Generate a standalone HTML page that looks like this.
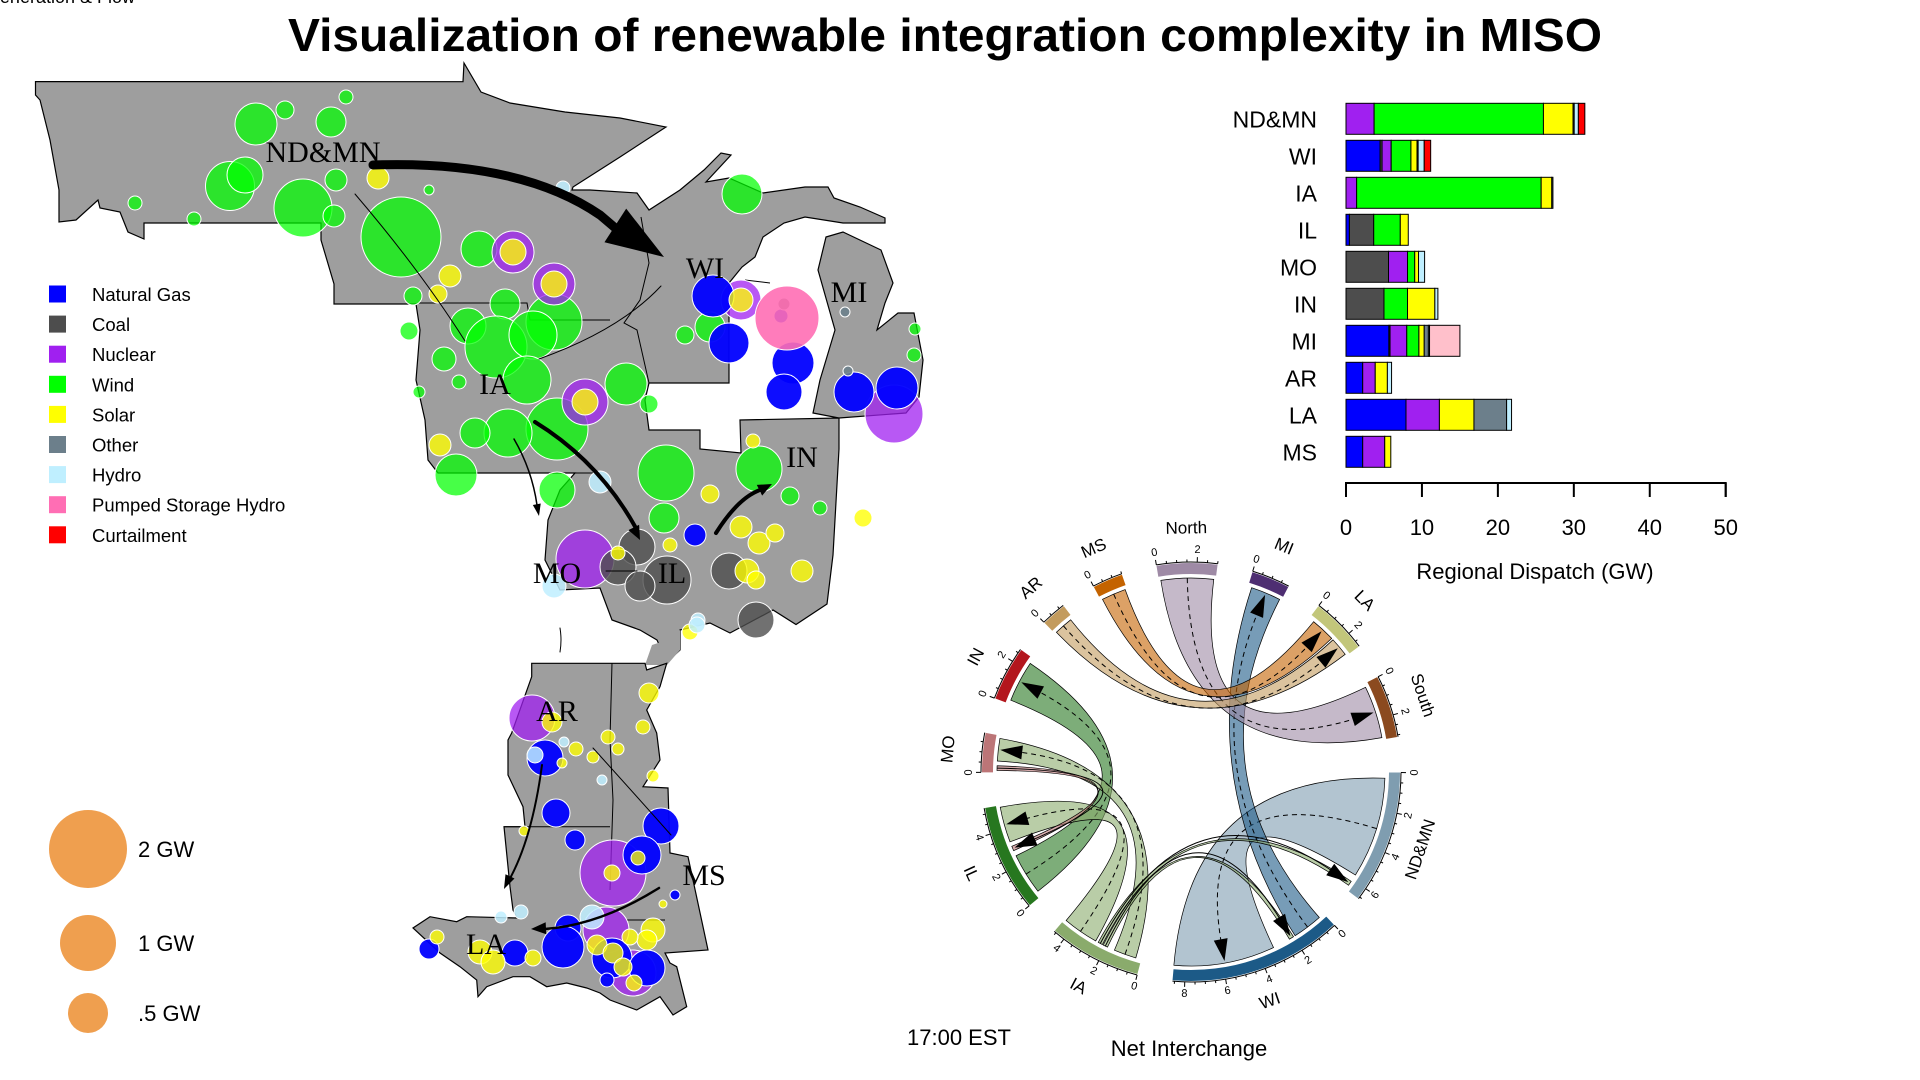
<!DOCTYPE html>
<html><head><meta charset="utf-8"><style>
body{margin:0;background:#fff}svg{display:block}
text{font-family:"Liberation Sans",sans-serif}
text.serif{font-family:"Liberation Serif",serif}
</style></head><body>
<svg id="svg" width="1920" height="1080" viewBox="0 0 1920 1080" xmlns="http://www.w3.org/2000/svg">
<rect width="1920" height="1080" fill="#fff"/>
<text x="135" y="3" font-size="18" text-anchor="end">Generation &amp; Flow</text>
<text x="288" y="51" font-size="46" font-weight="bold" textLength="1314" lengthAdjust="spacingAndGlyphs">Visualization of renewable integration complexity in MISO</text>

<g fill="#9e9e9e" stroke="#000" stroke-width="1.2">
<polygon points="35.5,81.6 463,81.7 464,63 481,92 510,103 565,112 620,118 666,127 620,157 573,187 572,190 590,190 637,193 649,210 680,190 704,170 721,153 731,155 706,182 729,178 763,193 805,187 828,187 834,198 860,207 885,218 885,223 843,223 805,217 784,223 763,237 755,257 742,267 729,283 729,383 649,383 645,400 649,430 700,430 700,449 741,453 740,420 839,418 839,449 833,555 827,604 796,624.5 773,610 730,633 710,623 680,630 680,650 667,662 657,640 640,630 612,620 600,588 560,590 545,560 548,520 560,490 575,473 438,473 428,460 425,420 416,380 420,330 416,304 334,304 334,284 321,240 321,223 144,223 144,239 128,232 120,212 100,208 98,200 76,220 59,222 59,190 50,140 40,100 35.5,95"/>
<polygon points="826,237 843,232 881,250 893,283 885,303 877,330 898,313 914,313 923,360 919,397 906,413 839,418 813,413 820,380 835,330 818,270"/>
<polygon points="645,665 667,665 680,650 680,630 667,640 652,645" stroke="none"/>
<polygon points="531.7,663.3 645,663.3 646.7,670 666.7,663.3 660,686.7 646.7,710 656.7,733 660,760 643,786.7 668,788 670,853 688,856.7 708,950 665,953 670,963 676.7,966.7 686.7,1006.7 673,1015 660,996.7 636.7,1010 610,1000 600,993 586.7,988 566.7,983 546.7,986.7 530,976.7 513,976.7 486.7,986.7 478,996.7 476.7,980 460,966.7 440,953 413,928 430,916.7 456.7,921.7 466.7,916.7 516.7,918 513,910 510,886.7 504,826.7 525,826.7 523,806.7 508,775 508,740 511.7,733 531.7,676.7"/>
<g fill="none" stroke-width="1">
<path d="M418,303 L527,303 L530,320 L610,320 M641,217 L649,263 L640,300 L624,323 L637,330 L649,383 M504,826.7 L610,826.7 M612,663 L610,740 L613,800 L610,890 M627,920 L665,920 M575,473 L600,473 M745,280 L770,283"/>
</g>
</g>
<g id="plants"></g>
<g id="mapflows"></g>
<g font-size="30" text-anchor="middle">
<text class="serif" x="323" y="162">ND&amp;MN</text>
<text class="serif" x="705" y="278">WI</text>
<text class="serif" x="849" y="302">MI</text>
<text class="serif" x="495" y="394">IA</text>
<text class="serif" x="802" y="467">IN</text>
<text class="serif" x="557" y="583">MO</text>
<text class="serif" x="672" y="583">IL</text>
<text class="serif" x="557" y="721">AR</text>
<text class="serif" x="704" y="885">MS</text>
<text class="serif" x="486" y="954">LA</text>
</g>

<g id="legend" font-size="18.5"></g>
<g font-size="22">
<circle cx="88" cy="849" r="39" fill="#ef9f4f"/>
<circle cx="88" cy="943" r="28" fill="#ef9f4f"/>
<circle cx="88" cy="1013" r="20" fill="#ef9f4f"/>
<text x="138" y="857">2 GW</text>
<text x="138" y="951">1 GW</text>
<text x="138" y="1021">.5 GW</text>
</g>

<g id="bars"></g>
<g id="chord"></g>
<text x="959" y="1045" font-size="22" text-anchor="middle">17:00 EST</text>
<text x="1189" y="1056" font-size="22" text-anchor="middle">Net Interchange</text>
</svg>
<script>
const NS="http://www.w3.org/2000/svg";
function mk(tag,attrs,parent){const e=document.createElementNS(NS,tag);for(const k in attrs)e.setAttribute(k,attrs[k]);parent.appendChild(e);return e;}

/* ---------- bar chart data ---------- */
const regions=["ND&MN","WI","IA","IL","MO","IN","MI","AR","LA","MS"];
const gasGW=[0,4.5,0,0.45,0,0,5.65,2.2,7.9,2.2];
const coalGW=[0,0.25,0,3.2,5.6,5.0,0.15,0,0,0];
const nuclearGW=[3.7,1.2,1.4,0,2.5,0,2.2,1.65,4.4,2.9];
const windGW=[22.3,2.6,24.3,3.5,0.95,3.1,1.6,0,0,0];
const solarGW=[3.9,0.8,1.4,1.05,0.5,3.6,0.7,1.6,4.55,0.8];
const otherGW=[0.15,0.15,0.15,0,0,0,0.55,0,4.3,0];
const hydroGW=[0.55,0.8,0,0,0.8,0.4,0.15,0.55,0.65,0];
const pshGW=[0,0,0,0,0,0,4.0,0,0,0];
const curtailGW=[0.85,0.85,0,0,0,0,0,0,0,0];
const xTicks=[0,10,20,30,40,50];

/* ---------- chord data ---------- */
const sectorNames=["North","MI","LA","South","ND&MN","WI","IA","IL","MO","IN","AR","MS"];
const sectorTotals=[3.0,1.9,2.8,3.1,6.6,8.6,4.6,5.3,1.95,2.7,1.25,1.5];
const linkFrom=["ND&MN","WI","North","MS","AR","IL","IA","IA","MO","IA","IA"];
const linkTo=["WI","MI","South","LA","LA","IN","MO","IL","IL","WI","ND&MN"];
const linkValue=[5.4,1.6,2.8,1.3,1.0,2.2,1.2,1.9,0.25,0.25,0.25];
const linkFromPos=[0.3,0.3,0.1,0.1,0.1,0.3,0.3,2.6,0.1,1.9,2.2];
const linkToPos=[3.2,0.2,0.2,0.3,1.7,0.2,0.6,3.3,2.8,2.0,6.1];

/* ---------- map plant data (map pixel positions, radius) ---------- */
const windPlants=[[256,124,21],[285,110,9],[331,122,15],[346,97,7],[230,186,24.5],[245,175,18],[303,208,29],[336,180,11],[334,216,11],[135,203,7],[194,219,7],[401,237,40],[429,190,5],[479,249,18],[413,296,9],[409,331,9],[554,322,28],[505,304,15],[468,326,18],[496,347,31],[533,335,24],[444,359,12],[459,382,7],[527,380,24],[626,384,21],[649,404,9],[557,429,31],[508,433,24],[475,433,15],[456,475,21],[557,490,18],[666,473,28],[664,518,15],[759,469,23],[742,194,20],[710,327,15],[685,335,9],[914,355,7],[915,329,6],[419,392,6],[820,508,7],[790,496,9]];
const nuclearPlants=[[513,252,21],[554,284,21],[585,402,23],[585,559,29],[741,300,20],[894,414,29],[532,718,23],[613,873,33],[606,930,23],[633,973,23]];
const gasPlants=[[713,296,21],[729,343,20],[793,363,21],[784,392,18],[854,392,20],[897,388,21],[695,535,11],[781,316,7],[545,758,18],[556,813,14],[661,826,18],[575,840,10],[642,855,19],[675,895,5],[568,928,13],[563,947,21],[612,958,20],[647,968,18],[607,980,7],[515,953,13],[429,949,10]];
const coalPlants=[[637,547,18],[618,567,18],[667,580,24],[640,586,15],[729,571,18],[756,620,18],[784,304,6]];
const solarPlants=[[378,178,11],[450,276,11],[438,294,9],[513,252,13],[554,284,13],[585,402,13],[741,300,12],[440,445,11],[710,494,9],[670,545,7],[741,527,11],[759,543,11],[775,533,9],[802,571,11],[863,518,9],[753,441,7],[747,571,12],[756,580,9],[618,553,7],[552,722,10],[562,763,5],[649,693,10],[643,727,7],[608,737,7],[618,749,6],[576,749,7],[593,757,6],[653,776,6],[612,873,8],[638,858,7],[663,904,4],[653,930,12],[647,940,10],[630,937,8],[597,945,10],[613,953,10],[623,967,9],[634,983,8],[533,958,8],[480,952,12],[493,962,12],[437,937,7],[524,831,5],[690,632,8]];
const hydroPlants=[[554,586,12],[600,482,11],[563,188,7],[698,620,7],[535,755,8],[602,780,5],[564,742,5],[592,917,12],[521,912,7],[501,917,6],[697,625,8]];
const pshPlants=[[787,318,32]];
const otherPlants=[[848,371,5],[845,312,5]];

/* ---------- legend ---------- */
const legendNames=["Natural Gas","Coal","Nuclear","Wind","Solar","Other","Hydro","Pumped Storage Hydro","Curtailment"];
const legendColors=["#0000ff","#4d4d4d","#a020f0","#00ff00","#ffff00","#6c7f8b","#bfefff","#ff6eb4","#ff0000"];
const lg=document.getElementById("legend");
legendNames.forEach((n,i)=>{
  const y=294+i*30.1;
  const r=mk("rect",{x:49,y:y-8.5,width:17,height:17,fill:legendColors[i]},lg);
  
  
  const t=mk("text",{x:92,y:y+7},lg);t.textContent=n;
  
  
});

/* ---------- plants ---------- */
const pg=document.getElementById("plants");
function drawPlants(arr,color,op,name){
  arr.forEach(p=>{
    const c=mk("circle",{cx:p[0],cy:p[1],r:p[2],fill:color,"fill-opacity":op,stroke:"#fff","stroke-width":1},pg);
    
    
  });
}
drawPlants(windPlants,"#00ff00",0.72,"wind-plant");
drawPlants(nuclearPlants,"#a020f0",0.75,"nuclear-plant");
drawPlants(gasPlants,"#0000ff",0.95,"gas-plant");
drawPlants(coalPlants,"#4d4d4d",0.8,"coal-plant");
drawPlants(pshPlants,"#ff6eb4",0.9,"pumped-storage-plant");
drawPlants(solarPlants,"#ffff00",0.78,"solar-plant");
drawPlants(hydroPlants,"#bfefff",0.85,"hydro-plant");
drawPlants(otherPlants,"#6c7f8b",0.9,"other-plant");

/* ---------- map flow arrows ---------- */
const mf=document.getElementById("mapflows");
function head(tip,from,len,w,parent){
  const dx=tip[0]-from[0],dy=tip[1]-from[1],L=Math.hypot(dx,dy),ux=dx/L,uy=dy/L;
  const bx=tip[0]-ux*len,by=tip[1]-uy*len;
  const h=mk("polygon",{points:`${tip[0]},${tip[1]} ${bx-uy*w},${by+ux*w} ${bx+uy*w},${by-ux*w}`,fill:"#000"},parent);
  
  
}
function flow(d,sw,tip,from,len,w){
  const p=mk("path",{d:d,fill:"none",stroke:"#000","stroke-width":sw,"stroke-linecap":"round"},mf);
  
  
  if(tip)head(tip,from,len,w,mf);
}
flow("M373,165 Q520,160 600,215 L620,232",9,[664,257],[610,222],58,20);
flow("M535,422 Q600,462 637,530",4,[640,540],[625,510],14,6);
flow("M716,533 Q738,498 760,490",4,[772,484],[748,496],14,6);
flow("M514,439 Q532,470 537,505",1.5,[539,516],[536,500],12,4);
flow("M355,194 Q420,270 465,341",1,null);
flow("M539,359 Q620,330 661,286",1,null);
flow("M606,571 L637,571",1,null);
flow("M542,765 Q532,840 508,882",2,[504,889],[513,870],14,5);
flow("M659,888 Q600,925 545,929",2.5,[531,929],[550,928],15,6);
flow("M593,748 Q640,800 671,835",1,null);
flow("M560,628 Q562,640 560,652",1,null);

/* ---------- bar chart ---------- */
const bg=document.getElementById("bars");
const X0=1346,PXGW=7.594;
function xScale(v){return X0+v*PXGW;}
function rowY(i){return 103.3+i*37;}
const series=[gasGW,coalGW,nuclearGW,windGW,solarGW,otherGW,hydroGW,pshGW,curtailGW];
const seriesNames=["gas","coal","nuclear","wind","solar","other","hydro","pumped-storage","curtailment"];
const barColors=["#0000ff","#4d4d4d","#a020f0","#00ff00","#ffff00","#6c7f8b","#bfefff","#ffc0cb","#ff0000"];
regions.forEach((r,i)=>{
  let acc=0;
  series.forEach((s,k)=>{
    const v=s[i];if(v<=0)return;
    const rc=mk("rect",{x:xScale(acc),y:rowY(i),width:v*PXGW,height:31,fill:barColors[k],stroke:"#000","stroke-width":1},bg);
    
    
    acc+=v;
  });
  const t=mk("text",{x:1317,y:rowY(i)+24,"font-size":23,"text-anchor":"end"},bg);t.textContent=r;
  
  
});
const ax=mk("path",{d:`M${xScale(0)},497 L${xScale(0)},483 L${xScale(50)},483 L${xScale(50)},497`,fill:"none",stroke:"#000","stroke-width":2},bg);


xTicks.forEach(v=>{
  const l=mk("line",{x1:xScale(v),x2:xScale(v),y1:483,y2:497,stroke:"#000","stroke-width":2},bg);
  
  
  const t=mk("text",{x:xScale(v),y:535,"font-size":22,"text-anchor":"middle"},bg);t.textContent=v;
  
  
});
const xt=mk("text",{x:1535,y:579,"font-size":22,"text-anchor":"middle"},bg);xt.textContent="Regional Dispatch (GW)";



/* ---------- chord diagram ---------- */
const cg=document.getElementById("chord");
const CX=1191,CY=772,RL=194,RI=198,RO=209,DPU=5.6,START=99.5;
const sectorColors=["#9e8aa5","#4e2e72","#c2c67a","#8b4a1f","#7f9db0","#1c5a87","#8aab6c","#27771f","#bc7577","#b3161d","#c39b5d","#c46300"];
const totalUnits=sectorTotals.reduce((a,b)=>a+b,0);
const GAP=(360-totalUnits*DPU)/sectorTotals.length;
const sectorStart=[];let cur=START;
sectorTotals.forEach(v=>{sectorStart.push(cur);cur-=v*DPU+GAP;});
function ang(s,u){return sectorStart[s]-u*DPU;}
function pt(a,r){const t=a*Math.PI/180;return [CX+r*Math.cos(t),CY-r*Math.sin(t)];}
function idx(n){return sectorNames.indexOf(n);}
function readRot(a){return Math.sin(a*Math.PI/180)>-0.15?90-a:-90-a;}
linkFrom.forEach((f,i)=>{
  const s=idx(f),t=idx(linkTo[i]),v=linkValue[i];
  const a1=ang(s,linkFromPos[i]),a2=ang(s,linkFromPos[i]+v);
  const b1=ang(t,linkToPos[i]),b2=ang(t,linkToPos[i]+v);
  const A1=pt(a1,RL),A2=pt(a2,RL),B1=pt(b1,RL),B2=pt(b2,RL);
  const d=`M${A1} A${RL},${RL} 0 0 1 ${A2} Q${CX},${CY} ${B1} A${RL},${RL} 0 0 1 ${B2} Q${CX},${CY} ${A1} Z`;
  const p=mk("path",{d:d,fill:sectorColors[s],"fill-opacity":0.6,stroke:"#000","stroke-width":0.7},cg);
  
  
  const am=(a1+a2)/2,bm=(b1+b2)/2;
  const M1=pt(am,RL),M2=pt(bm,RL-18);
  const dl=mk("path",{d:`M${M1} Q${CX},${CY} ${M2}`,fill:"none",stroke:"#000","stroke-width":1,"stroke-dasharray":v>0.5?"5,4":"none"},cg);
  
  
  const tip=pt(bm,RL-2),base=pt(bm,RL-24),tn=[-Math.sin(bm*Math.PI/180),-Math.cos(bm*Math.PI/180)];
  const w=7;
  const h=mk("polygon",{points:`${tip} ${base[0]+tn[0]*w},${base[1]+tn[1]*w} ${base[0]-tn[0]*w},${base[1]-tn[1]*w}`,fill:"#000"},cg);
  
  
});
sectorNames.forEach((n,s)=>{
  const a0=ang(s,0),a1=ang(s,sectorTotals[s]);
  const P=[pt(a0,RO),pt(a1,RO),pt(a1,RI),pt(a0,RI)];
  const tr=mk("path",{d:`M${P[0]} A${RO},${RO} 0 0 1 ${P[1]} L${P[2]} A${RI},${RI} 0 0 0 ${P[3]} Z`,fill:sectorColors[s]},cg);
  
  
  const ol=mk("path",{d:`M${pt(a0,RO+1)} A${RO+1},${RO+1} 0 0 1 ${pt(a1,RO+1)}`,fill:"none",stroke:"#000","stroke-width":1},cg);
  
  
  for(let k=0;k<=Math.floor(sectorTotals[s]*2);k++){
    const u=k/2,a=ang(s,u),major=(k%4===0);
    const q1=pt(a,RO+1),q2=pt(a,RO+(major?6:3.5));
    const tk=mk("line",{x1:q1[0],y1:q1[1],x2:q2[0],y2:q2[1],stroke:"#000","stroke-width":1},cg);
    
    
    if(major){
      const lp=pt(a,RO+13);
      const rot=readRot(a);
      const tl=mk("text",{x:lp[0],y:lp[1],"font-size":11,"text-anchor":"middle","dominant-baseline":"middle",transform:`rotate(${rot},${lp[0]},${lp[1]})`},cg);
      tl.textContent=u;
      
      
    }
  }
  const am=(a0+a1)/2,lp=pt(am,RO+34);
  const rot=readRot(am);
  const nl=mk("text",{x:lp[0],y:lp[1],"font-size":17,"text-anchor":"middle","dominant-baseline":"middle",transform:`rotate(${rot},${lp[0]},${lp[1]})`},cg);
  nl.textContent=n;
  
  
});
</script>
</body></html>
